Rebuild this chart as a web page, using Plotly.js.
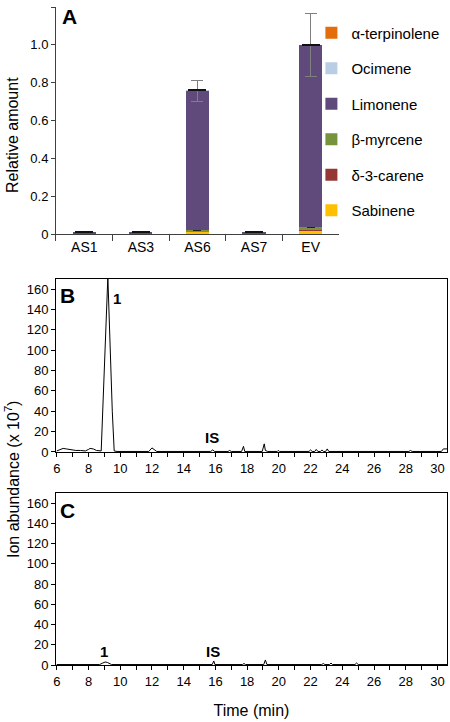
<!DOCTYPE html>
<html>
<head>
<meta charset="utf-8">
<script src="https://cdn.plot.ly/plotly-3.0.1.min.js"></script>
<style>html,body{margin:0;padding:0;background:#fff}</style>
</head>
<body>
<div id="chart" style="width:450px;height:722px"></div>
<script>
// ---- Panel A: relative amounts of monoterpenes ----
const samples = ['AS1', 'AS3', 'AS6', 'AS7', 'EV'];
const sabinene   = [0.001, 0.001, 0.008, 0.001, 0.015];
const carene     = [0.0005, 0.0005, 0.003, 0.0005, 0.006];
const myrcene    = [0.001, 0.001, 0.009, 0.001, 0.014];
const limonene   = [0.008, 0.008, 0.738, 0.008, 0.962];
const ocimene    = [0, 0, 0.001, 0, 0.001];
const terpinolene= [0.0005, 0.0005, 0.001, 0.0005, 0.002];
const limoneneErr = [0.001, 0.001, 0.055, 0.001, 0.167];
const smallErr    = [0.001, 0.001, 0.002, 0.001, 0.003];
const topErr      = [0.0005, 0.0005, 0.001, 0.0005, 0.001];
const yTickVals = [0, 0.2, 0.4, 0.6, 0.8, 1.0, 1.2];
const yTickText = ['0', '0.2', '0.4', '0.6', '0.8', '1.0', '1.2'];

// ---- Panel B: chromatogram, transformed line ----
const timeB = [6.0, 6.2, 6.4, 6.6, 6.9, 7.2, 7.5, 7.8, 8.0, 8.1, 8.3, 8.5, 8.8, 9.22, 9.5, 9.62, 9.8,
  11.8, 12.0, 12.15, 12.3, 15.7, 15.83, 15.95, 16.8, 16.9, 17.0, 17.65, 17.77, 17.85,
  18.95, 19.08, 19.15, 19.3, 19.9, 19.96, 20.05, 21.9, 22.0, 22.1, 22.26, 22.36, 22.46,
  22.62, 22.72, 22.82, 22.95, 23.05, 23.15, 28.2, 28.3, 28.4, 30.25, 30.37, 30.6];
const abundB = [1, 2.5, 3.5, 3, 2, 1.5, 1.5, 1, 2.5, 3.5, 3, 1.5, 1, 172, 40, 1, 0.5,
  0.5, 4, 2, 0.5, 0.5, 2, 0.5, 0.5, 1.5, 0.5, 0.5, 5.5, 0.5,
  0.5, 8, 1.5, 0.5, 0.5, 1.5, 0.5, 0.5, 2, 0.5, 0.5, 2.5, 0.5,
  0.5, 2, 0.5, 0.5, 3, 0.5, 0.5, 1.5, 0.5, 0.5, 3, 3];

// ---- Panel C: chromatogram, empty vector ----
const timeC = [6.0, 6.3, 6.35, 7.0, 7.05, 8.7, 8.9, 9.05, 9.2, 9.45, 15.8, 15.9, 15.97,
  17.7, 17.8, 17.9, 19.05, 19.15, 19.25, 22.7, 22.8, 22.9, 23.2, 23.29, 23.38,
  24.1, 24.2, 24.3, 24.8, 24.9, 25.0, 30.6];
const abundC = [0.5, 0.5, 1, 1, 0.5, 0.5, 2, 3, 2.5, 0.5, 0.5, 4, 0.5,
  0.5, 1.5, 0.5, 0.5, 5, 0.5, 0.5, 1.5, 0.5, 0.5, 2, 0.5,
  0.5, 1, 0.5, 0.5, 2, 0.5, 0.5];

const FONT = 'Liberation Sans, Arial, sans-serif';

function barTrace(name, rank, vals, color, err, errColor, errWidth, errThick) {
  const t = {
    type: 'bar', name: name, x: samples, y: vals, xaxis: 'x', yaxis: 'y',
    marker: {color: color, line: {width: 0}}, legendgroup: name, legendrank: rank,
    hoverinfo: 'name+y'
  };
  if (err) {
    t.error_y = {type: 'data', array: err, visible: true, color: errColor,
      thickness: errThick, width: errWidth};
  }
  return t;
}

const traces = [
  barTrace('Sabinene', 6, sabinene, '#FFC000'),
  barTrace('δ-3-carene', 5, carene, '#953735'),
  barTrace('β-myrcene', 4, myrcene, '#77933C', smallErr, '#222', 4, 1),
  barTrace('Limonene', 3, limonene, '#5F4A7B', limoneneErr, '#808080', 6, 1),
  barTrace('Ocimene', 2, ocimene, '#B9CDE5'),
  barTrace('α-terpinolene', 1, terpinolene, '#E46C0A', topErr, '#111', 9, 1.5),
  {type: 'scatter', mode: 'lines', x: timeB, y: abundB, xaxis: 'x2', yaxis: 'y2',
   line: {color: '#000', width: 1}, showlegend: false, name: 'B'},
  {type: 'scatter', mode: 'lines', x: timeC, y: abundC, xaxis: 'x3', yaxis: 'y3',
   line: {color: '#000', width: 1}, showlegend: false, name: 'C'}
];

const tickFont = {family: FONT, size: 13, color: '#000'};
const chromX = (anchor) => ({
  domain: [0.1244, 0.9933], anchor: anchor, range: [5.95, 30.6],
  tick0: 0, dtick: 2, ticks: 'outside', ticklen: 4, tickcolor: '#000',
  minor: {dtick: 1, ticks: 'outside', ticklen: 4, tickcolor: '#000', showgrid: false},
  showline: true, linecolor: '#000', linewidth: 1, mirror: true,
  showgrid: false, zeroline: false, tickfont: tickFont, automargin: false
});
const chromY = (anchor, domain) => ({
  domain: domain, anchor: anchor, range: [0, 170], tick0: 0, dtick: 20,
  ticks: 'outside', ticklen: 4, tickcolor: '#000',
  showline: true, linecolor: '#000', linewidth: 1, mirror: true,
  showgrid: false, zeroline: false, tickfont: tickFont, automargin: false
});

const xaxis3 = chromX('y3');
xaxis3.title = {text: 'Time (min)', font: {family: FONT, size: 16, color: '#000'}, standoff: 17};

const layout = {
  width: 450, height: 722,
  margin: {l: 0, r: 0, t: 0, b: 0},
  paper_bgcolor: '#fff', plot_bgcolor: 'rgba(0,0,0,0)',
  font: {family: FONT, color: '#000'},
  barmode: 'stack', bargap: 0.59,
  showlegend: true,
  legend: {
    x: 0.692, xanchor: 'left', y: 0.977, yanchor: 'top',
    traceorder: 'grouped', tracegroupgap: 13,
    font: {family: FONT, size: 15, color: '#000'},
    bgcolor: 'rgba(0,0,0,0)'
  },
  xaxis: {
    domain: [0.1244, 0.7533], anchor: 'y', type: 'category',
    tickson: 'boundaries', ticks: 'outside', ticklen: 6, tickcolor: '#404040',
    showline: true, linecolor: '#404040', linewidth: 1,
    showgrid: false, zeroline: false, automargin: false,
    tickfont: {family: FONT, size: 14, color: '#000'}
  },
  yaxis: {
    domain: [0.6759, 0.9903], anchor: 'x', range: [0, 1.2],
    tickvals: yTickVals, ticktext: yTickText,
    ticks: 'outside', ticklen: 4, tickcolor: '#404040',
    showline: true, linecolor: '#404040', linewidth: 1,
    showgrid: false, zeroline: false, automargin: false,
    tickfont: tickFont
  },
  xaxis2: chromX('y2'),
  yaxis2: chromY('x2', [0.374, 0.6136]),
  xaxis3: xaxis3,
  yaxis3: chromY('x3', [0.0789, 0.3172]),
  annotations: [
    {text: 'Relative amount', xref: 'paper', yref: 'paper',
     x: 12 / 450, y: 1 - 135 / 722, xanchor: 'center', yanchor: 'middle',
     textangle: -90, showarrow: false, font: {family: FONT, size: 16, color: '#000'}},
    {text: '<b>A</b>', xref: 'paper', yref: 'paper', x: 69 / 450, y: 1 - 17 / 722,
     xanchor: 'center', yanchor: 'middle', showarrow: false, font: {family: FONT, size: 21}},
    {text: '<b>B</b>', xref: 'paper', yref: 'paper', x: 67 / 450, y: 1 - 295 / 722,
     xanchor: 'center', yanchor: 'middle', showarrow: false, font: {family: FONT, size: 21}},
    {text: '<b>C</b>', xref: 'paper', yref: 'paper', x: 67 / 450, y: 1 - 510 / 722,
     xanchor: 'center', yanchor: 'middle', showarrow: false, font: {family: FONT, size: 21}},
    {text: '<b>1</b>', xref: 'x2', yref: 'y2', x: 9.8, y: 151,
     xanchor: 'center', yanchor: 'middle', showarrow: false, font: {family: FONT, size: 15}},
    {text: '<b>IS</b>', xref: 'x2', yref: 'y2', x: 15.8, y: 14.7,
     xanchor: 'center', yanchor: 'middle', showarrow: false, font: {family: FONT, size: 15}},
    {text: '<b>1</b>', xref: 'x3', yref: 'y3', x: 8.98, y: 13.7,
     xanchor: 'center', yanchor: 'middle', showarrow: false, font: {family: FONT, size: 15}},
    {text: '<b>IS</b>', xref: 'x3', yref: 'y3', x: 15.85, y: 13.7,
     xanchor: 'center', yanchor: 'middle', showarrow: false, font: {family: FONT, size: 15}},
    {text: 'Ion abundance (x 10<sup>7</sup>)', xref: 'paper', yref: 'paper',
     x: 12 / 450, y: 1 - 480 / 722, xanchor: 'center', yanchor: 'middle',
     textangle: -90, showarrow: false, font: {family: FONT, size: 16, color: '#000'}}
  ]
};

Plotly.newPlot('chart', traces, layout, {displayModeBar: false, staticPlot: true});
</script>
</body>
</html>
